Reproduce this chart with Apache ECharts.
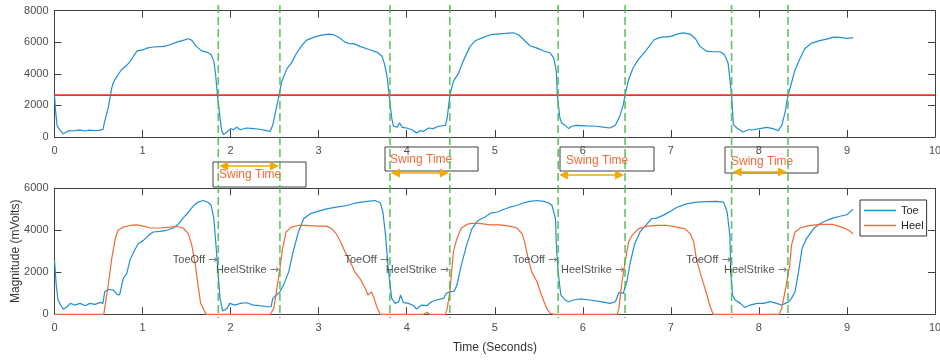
<!DOCTYPE html>
<html><head><meta charset="utf-8">
<script src="https://cdn.jsdelivr.net/npm/echarts/dist/echarts.min.js"></script>
<style>html,body{margin:0;padding:0;background:#fff}#c{width:940px;height:360px}</style>
</head><body><div id="c"></div>
<script>
// ---------- data ----------
const topTime = [0,0.01,0.03,0.06,0.10,0.13,0.17,0.20,0.25,0.30,
0.35,0.40,0.45,0.50,0.55,0.57,0.61,0.65,0.67,0.71,
0.76,0.82,0.86,0.90,0.94,1.01,1.05,1.12,1.24,1.31,
1.39,1.46,1.52,1.56,1.61,1.67,1.73,1.78,1.81,1.83,
1.85,1.88,1.90,1.92,1.96,2.00,2.03,2.07,2.11,2.18,
2.26,2.33,2.41,2.45,2.48,2.52,2.55,2.58,2.64,2.69,
2.75,2.81,2.86,2.94,3.02,3.11,3.17,3.24,3.30,3.36,
3.39,3.47,3.58,3.66,3.72,3.75,3.78,3.80,3.83,3.85,
3.89,3.92,3.95,4.00,4.06,4.11,4.15,4.19,4.25,4.30,
4.36,4.44,4.46,4.49,4.53,4.59,4.64,4.72,4.78,4.87,
4.95,5.02,5.12,5.21,5.27,5.33,5.40,5.48,5.55,5.63,
5.67,5.70,5.71,5.74,5.76,5.80,5.84,5.87,5.93,6.04,
6.16,6.23,6.31,6.37,6.42,6.46,6.48,6.52,6.57,6.63,
6.71,6.81,6.88,7.00,7.07,7.14,7.22,7.28,7.33,7.41,
7.48,7.56,7.61,7.65,7.67,7.69,7.71,7.75,7.82,7.88,
7.94,8.01,8.09,8.16,8.22,8.26,8.30,8.33,8.37,8.41,
8.47,8.52,8.60,8.69,8.77,8.85,8.92,9.00,9.07];
const topToe = [2700,1800,700,450,200,300,420,380,420,430,
380,430,400,420,480,990,1840,3100,3480,3840,
4260,4540,4790,5150,5460,5530,5630,5700,5740,5845,
6010,6120,6225,6120,5740,5460,5380,5210,4790,3950,
2680,1200,360,150,320,530,460,610,460,570,
530,490,400,360,780,1840,2640,3520,4330,4680,
5320,5800,6120,6310,6440,6520,6480,6270,6010,5890,
5930,5740,5530,5380,5110,4580,3730,2680,1200,680,
630,890,610,570,460,250,400,360,570,530,
680,740,1200,2640,3520,4050,4790,5740,6100,6310,
6480,6520,6560,6600,6480,6160,5780,5630,5460,5320,
5000,4160,2640,1200,890,740,530,680,740,700,
680,630,570,740,1310,2050,2640,3630,4370,4900,
5420,6160,6310,6370,6520,6600,6520,6220,5740,5420,
5400,5400,5210,4680,3730,2640,780,570,320,460,
460,530,610,530,400,740,1620,2640,3420,4260,
5000,5590,5950,6100,6200,6330,6310,6250,6290];
const threshold = 2650;

const toeTime = [0,0.02,0.04,0.07,0.10,0.14,0.18,0.23,0.29,0.35,
0.40,0.46,0.52,0.55,0.57,0.61,0.67,0.71,0.74,0.78,
0.82,0.86,0.91,0.95,1.01,1.07,1.12,1.20,1.27,1.35,
1.41,1.46,1.52,1.58,1.63,1.69,1.75,1.78,1.81,1.84,
1.86,1.88,1.91,1.96,1.99,2.05,2.11,2.18,2.26,2.33,
2.41,2.46,2.48,2.52,2.56,2.60,2.66,2.71,2.77,2.83,
2.90,2.98,3.09,3.20,3.32,3.43,3.55,3.64,3.70,3.73,
3.76,3.79,3.83,3.87,3.91,3.93,3.96,4.02,4.08,4.11,
4.17,4.23,4.28,4.34,4.42,4.45,4.49,4.54,4.57,4.62,
4.68,4.74,4.81,4.89,4.96,5.02,5.10,5.17,5.25,5.33,
5.40,5.48,5.55,5.61,5.65,5.69,5.70,5.72,5.75,5.80,
5.84,5.89,5.97,6.08,6.20,6.31,6.37,6.41,6.46,6.50,
6.54,6.59,6.65,6.73,6.78,6.84,6.91,6.99,7.07,7.18,
7.29,7.41,7.52,7.60,7.64,7.67,7.68,7.70,7.73,7.79,
7.84,7.90,7.98,8.05,8.13,8.20,8.26,8.30,8.34,8.37,
8.41,8.45,8.49,8.54,8.62,8.69,8.77,8.84,8.92,9.00,
9.05,9.07];
const toeMag = [2570,1390,680,440,240,360,520,440,520,410,
520,470,570,520,1070,1180,1150,950,920,1700,
1940,2620,3050,3360,3520,3760,3920,3950,4000,4110,
4310,4580,4860,5180,5340,5420,5310,5180,4550,2970,
1860,760,160,280,520,440,520,550,440,410,
360,360,760,920,1070,1390,2020,2970,3920,4550,
4780,4890,5020,5100,5180,5310,5380,5420,5310,4860,
3760,2180,760,520,600,920,570,520,410,250,
440,410,600,680,760,1000,1070,1100,1390,2340,
3280,4070,4470,4630,4830,4860,4990,5100,5180,5310,
5380,5420,5380,5310,5180,4550,3280,2020,920,680,
600,680,730,680,600,520,600,1040,1000,1550,
2490,3360,3920,4310,4550,4580,4710,4890,5100,5260,
5340,5370,5380,5340,4860,3760,2020,920,680,520,
320,440,520,520,600,520,440,520,600,760,
1070,2020,3130,3600,4070,4310,4470,4580,4670,4740,
4940,4990];

const heelTime = [0,0.56,0.57,0.61,0.65,0.69,0.72,0.78,0.86,0.93,
1.01,1.08,1.20,1.31,1.39,1.46,1.52,1.56,1.60,1.63,
1.66,1.68,1.70,1.72,2.45,2.49,2.52,2.56,2.59,2.63,
2.69,2.77,2.86,2.98,3.09,3.15,3.20,3.26,3.30,3.36,
3.41,3.47,3.53,3.56,3.60,3.63,3.66,3.70,4.19,4.23,
4.26,4.44,4.46,4.49,4.53,4.57,4.62,4.70,4.78,4.87,
4.95,5.06,5.17,5.25,5.31,5.34,5.38,5.42,5.48,5.53,
5.59,5.63,5.67,6.39,6.41,6.44,6.48,6.52,6.56,6.63,
6.73,6.84,6.96,7.07,7.16,7.22,7.26,7.29,7.33,7.37,
7.41,7.44,7.45,7.48,8.23,8.26,8.31,8.35,8.37,8.41,
8.47,8.54,8.64,8.73,8.84,8.94,9.02,9.07];
const heelMag = [0,0,280,1390,2650,3600,4000,4150,4230,4260,
4200,4120,4110,4150,4180,4110,3840,3280,2340,1390,
520,360,440,0,0,280,1070,2180,3130,3920,
4150,4230,4230,4200,4200,4070,3840,3360,2970,2490,
2020,1700,1230,920,1070,760,360,0,0,100,
0,0,280,1070,2970,3600,4110,4310,4340,4310,
4260,4260,4200,4110,3840,3440,2650,2020,1550,920,
280,50,0,0,280,1390,2490,3440,3760,4070,
4200,4230,4230,4150,4070,3840,3440,2650,2020,1470,
920,440,360,0,0,280,1390,2340,3280,3920,
4110,4200,4260,4280,4280,4150,4000,3840];

const toeOffTimes = [1.86, 3.81, 5.72, 7.69];
const heelStrikeTimes = [2.56, 4.49, 6.48, 8.33];
const toeOffLabelY = 2600;
const heelStrikeLabelY = 2100;
const xTicks = {min: 0, max: 10, step: 1};

// ---------- layout / style ----------
const F = "'Liberation Sans', Arial, Helvetica, sans-serif";
const AX = '#404040';
const BLUE = '#1f8fd8';
const ORANGE = '#ec6a3a';
const swingBoxes = [
  {x:213, y:162, w:93, h:25, tx:219, ty:175, ay:166},
  {x:385, y:147, w:93, h:24, tx:390, ty:160, ay:173},
  {x:560, y:147, w:94, h:24, tx:566, ty:161, ay:175},
  {x:725, y:147, w:93, h:26, tx:731, ty:162, ay:172}
];

const zip = (a, b) => a.map((v, i) => [v, b[i]]);

function xAxis(gi, pos, labels, extra) {
  return Object.assign({
    type: 'value', gridIndex: gi, position: pos,
    min: xTicks.min, max: xTicks.max, interval: xTicks.step,
    axisLine: {show: true, onZero: false, lineStyle: {color: AX, width: 1}},
    axisTick: {show: true, inside: true, length: 7, lineStyle: {color: AX}},
    axisLabel: {show: labels, color: '#4d4d4d', fontSize: 11, fontFamily: F, margin: 8,
                formatter: v => String(v)},
    splitLine: {show: false}
  }, extra || {});
}
function yAxis(gi, pos, max, labels, extra) {
  return Object.assign({
    type: 'value', gridIndex: gi, position: pos,
    min: 0, max: max, interval: 2000,
    axisLine: {show: true, onZero: false, lineStyle: {color: AX, width: 1}},
    axisTick: {show: true, inside: true, length: 7, lineStyle: {color: AX}},
    axisLabel: {show: labels, color: '#4d4d4d', fontSize: 11, fontFamily: F, margin: 6,
                formatter: v => String(v)},
    splitLine: {show: false}
  }, extra || {});
}

const labelRich = {
  t: {color: '#262626', fontSize: 11, fontFamily: F},
  a: {color: '#555', fontSize: 11, fontFamily: "'DejaVu Sans', sans-serif"}
};

const chart = echarts.init(document.getElementById('c'), null, {renderer: 'canvas'});
chart.setOption({
  backgroundColor: '#fff',
  animation: false,
  textStyle: {fontFamily: F},
  grid: [
    {left: 54.5, right: 5, top: 10.7, height: 126.3, containLabel: false, outerBoundsMode: 'none'},
    {left: 54.5, right: 5, top: 188.3, height: 126, containLabel: false, outerBoundsMode: 'none'}
  ],
  xAxis: [
    xAxis(0, 'bottom', true),
    xAxis(0, 'top', false),
    xAxis(1, 'bottom', true, {name: 'Time (Seconds)', nameLocation: 'middle', nameGap: 27,
      nameMoveOverlap: false,
      nameTextStyle: {color: '#333', fontSize: 12, fontFamily: F}}),
    xAxis(1, 'top', false)
  ],
  yAxis: [
    yAxis(0, 'left', 8000, true),
    yAxis(0, 'right', 8000, false),
    yAxis(1, 'left', 6000, true, {name: 'Magnitude (mVolts)', nameLocation: 'middle', nameGap: 33,
      nameMoveOverlap: false,
      nameRotate: 90, nameTextStyle: {color: '#333', fontSize: 12, fontFamily: F}}),
    yAxis(1, 'right', 6000, false)
  ],
  legend: {
    data: ['Toe', 'Heel'], orient: 'vertical', left: 860, top: 200,
    icon: 'rect', itemWidth: 32, itemHeight: 1.5,
    backgroundColor: '#fff', borderColor: '#333', borderWidth: 1, borderRadius: 0,
    padding: [5, 3, 5, 4], itemGap: 4,
    textStyle: {fontSize: 11, color: '#262626', fontFamily: F}
  },
  series: [
    {name: 'ToeTop', type: 'line', xAxisIndex: 0, yAxisIndex: 0, data: zip(topTime, topToe),
     symbol: 'none', lineStyle: {color: BLUE, width: 1.2}, itemStyle: {color: BLUE}, z: 3},
    {name: 'Threshold', type: 'line', xAxisIndex: 0, yAxisIndex: 0,
     data: [[xTicks.min, threshold], [xTicks.max, threshold]],
     symbol: 'none', lineStyle: {color: '#ff2a2a', width: 1.6}, z: 4},
    {name: 'Toe', type: 'line', xAxisIndex: 2, yAxisIndex: 2, data: zip(toeTime, toeMag),
     symbol: 'none', lineStyle: {color: BLUE, width: 1.2}, itemStyle: {color: BLUE}, z: 3},
    {name: 'Heel', type: 'line', xAxisIndex: 2, yAxisIndex: 2, data: zip(heelTime, heelMag),
     symbol: 'none', lineStyle: {color: ORANGE, width: 1.2}, itemStyle: {color: ORANGE}, z: 3},
    {name: 'ToeOffLbl', type: 'scatter', xAxisIndex: 2, yAxisIndex: 2, symbolSize: 0,
     data: toeOffTimes.map(t => [t, toeOffLabelY]), silent: true, z: 6,
     label: {show: true, position: 'left', distance: 1, formatter: '{t|ToeOff }{a|\u2192}', rich: labelRich}},
    {name: 'HeelStrikeLbl', type: 'scatter', xAxisIndex: 2, yAxisIndex: 2, symbolSize: 0,
     data: heelStrikeTimes.map(t => [t, heelStrikeLabelY]), silent: true, z: 6,
     label: {show: true, position: 'left', distance: 1, formatter: '{t|HeelStrike }{a|\u2192}', rich: labelRich}}
  ]
});

const px = t => chart.convertToPixel({xAxisIndex: 0}, t);
const g = [];
swingBoxes.forEach((b, i) => {
  g.push({type: 'rect', shape: {x: b.x, y: b.y, width: b.w, height: b.h}, z: 10,
    style: {fill: 'none', stroke: '#404040', lineWidth: 1}});
  g.push({type: 'text', x: b.tx, y: b.ty, z: 11,
    style: {text: 'Swing Time', fill: '#f26a3a', font: '12px ' + F, textVerticalAlign: 'middle', verticalAlign: 'middle'}});
  const x1 = px(toeOffTimes[i]) + 1, x2 = px(heelStrikeTimes[i]) - 1, y = b.ay;
  const AC = '#f2a900', L = 9, W = 4.5;
  g.push({type: 'line', shape: {x1: x1 + 4, y1: y, x2: x2 - 4, y2: y}, z: 11,
    style: {stroke: AC, lineWidth: 1.5}});
  g.push({type: 'polygon', shape: {points: [[x1, y], [x1 + L, y - W], [x1 + L, y + W]]}, z: 11, style: {fill: AC}});
  g.push({type: 'polygon', shape: {points: [[x2, y], [x2 - L, y - W], [x2 - L, y + W]]}, z: 11, style: {fill: AC}});
});
toeOffTimes.concat(heelStrikeTimes).forEach(t => {
  const x = px(t);
  g.push({type: 'line', shape: {x1: x, y1: 5, x2: x, y2: 318}, z: 12,
    style: {stroke: 'rgba(70,185,70,0.85)', lineWidth: 1.6, lineDash: [8, 4]}});
});
chart.setOption({graphic: g});
</script></body></html>
